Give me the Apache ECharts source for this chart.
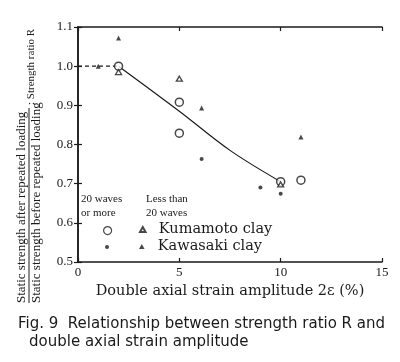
<!DOCTYPE html>
<html>
<head>
<meta charset="utf-8">
<script src="https://cdn.jsdelivr.net/npm/echarts@6/dist/echarts.min.js"></script>
<style>html,body{margin:0;padding:0;background:#fff}#c{width:400px;height:362px}</style>
</head>
<body>
<div id="c"></div>
<script>
// Data
var kumamotoMany = [[2, 1.0], [5, 0.908], [5, 0.829], [10, 0.705], [11, 0.709]];   // 20 waves or more (open circle)
var kumamotoFew  = [[2, 0.985], [5, 0.968], [10, 0.698]];                          // less than 20 waves (open triangle)
var kawasakiMany = [[6.1, 0.763], [9, 0.69], [10, 0.674]];                          // 20 waves or more (dot)
var kawasakiFew  = [[1, 1.0], [2, 1.072], [6.1, 0.893], [11, 0.819]];               // less than 20 waves (filled triangle)
var trendDashed  = [[0, 1.0], [2, 1.0]];
var trendSolid   = [[2, 1.0], [5, 0.885], [7.5, 0.785], [10, 0.705]];
var xTicks = [0, 5, 10, 15];
var yTicks = [0.5, 0.6, 0.7, 0.8, 0.9, 1.0, 1.1];

var ink = '#1a1a1a';
var serif = 'Liberation Serif';
var chart = echarts.init(document.getElementById('c'));

function axisCommon(show) {
  return {
    axisLine: {show: true, lineStyle: {color: ink, width: 1.5}},
    axisTick: {show: true, inside: true, length: 4, lineStyle: {color: ink, width: 1.2}},
    splitLine: {show: false},
    axisLabel: {show: show, color: ink, fontFamily: serif, fontSize: 13}
  };
}

var xMain = Object.assign(axisCommon(true), {
  type: 'value', min: 0, max: 15, interval: 5, position: 'bottom',
  name: 'Double axial strain amplitude 2ε (%)', nameLocation: 'middle', nameGap: 22,
  nameTextStyle: {color: ink, fontFamily: 'DejaVu Serif', fontSize: 14.5}
});
xMain.axisLabel.margin = 4;
xMain.axisLabel.formatter = function (v) { return xTicks.indexOf(v) >= 0 ? String(v) : ''; };
var xTop = Object.assign(axisCommon(false), {type: 'value', min: 0, max: 15, interval: 5, position: 'top'});

var yMain = Object.assign(axisCommon(true), {type: 'value', min: 0.5, max: 1.1, interval: 0.1, position: 'left'});
yMain.axisLabel.margin = 5;
yMain.axisLabel.formatter = function (v) {
  var r = Math.round(v * 10) / 10;
  return yTicks.indexOf(r) >= 0 ? r.toFixed(1) : '';
};
var yRight = Object.assign(axisCommon(false), {type: 'value', min: 0.5, max: 1.1, interval: 0.1, position: 'right'});

var triPath = 'path://M5,0 L10,9 L0,9 Z';

function iconLegend(name, left, top, size) {
  return {data: [name], left: left, top: top, padding: 0, itemWidth: size, itemHeight: size,
          itemStyle: {borderWidth: 1.2},
          formatter: function () { return ''; }, selectedMode: false, textStyle: {fontSize: 1}};
}
function textLegend(name, label, left, top) {
  return {data: [name], left: left, top: top, padding: 0, itemWidth: 6, itemHeight: 5,
          formatter: function () { return label; }, selectedMode: false,
          textStyle: {color: ink, fontFamily: 'DejaVu Serif', fontSize: 14.5, lineHeight: 17, padding: [0, 0, 0, 8]}};
}

chart.setOption({
  animation: false,
  backgroundColor: '#fff',
  grid: {left: 78, right: 18, top: 27, bottom: 100},
  xAxis: [xMain, xTop],
  yAxis: [yMain, yRight],
  legend: [
    iconLegend('Kumamoto ≥20', 103, 226, 8),
    iconLegend('Kawasaki ≥20', 105, 245, 4),
    textLegend('Kumamoto <20', 'Kumamoto clay', 139, 221),
    textLegend('Kawasaki <20', 'Kawasaki clay', 139, 238)
  ],
  series: [
    {name: 'trend-dashed', type: 'line', data: trendDashed, symbol: 'none', lineStyle: {color: ink, width: 1.2, type: [4, 3]}, z: 1},
    {name: 'trend', type: 'line', data: trendSolid, symbol: 'none', smooth: 0.35, lineStyle: {color: ink, width: 1.2}, z: 1},
    {name: 'Kumamoto ≥20', type: 'scatter', data: kumamotoMany, symbol: 'circle', symbolSize: 8,
     itemStyle: {color: '#fff', borderColor: ink, borderWidth: 1.5}, z: 3},
    {name: 'Kumamoto <20', type: 'scatter', data: kumamotoFew, symbol: triPath, symbolSize: [6, 5],
     itemStyle: {color: '#fff', borderColor: ink, borderWidth: 1.3}, z: 4},
    {name: 'Kawasaki ≥20', type: 'scatter', data: kawasakiMany, symbol: 'circle', symbolSize: 4,
     itemStyle: {color: ink}, z: 3},
    {name: 'Kawasaki <20', type: 'scatter', data: kawasakiFew, symbol: triPath, symbolSize: [5, 5],
     itemStyle: {color: ink}, z: 3}
  ],
  graphic: [
    {type: 'text', left: 81, top: 192, style: {text: '20 waves\nor more', font: '11px "Liberation Serif"', fill: ink, lineHeight: 14}},
    {type: 'text', left: 146, top: 192, style: {text: 'Less than\n20 waves', font: '11px "Liberation Serif"', fill: ink, lineHeight: 14}},
    {
      type: 'group', x: 29, y: 303, rotation: Math.PI / 2,
      children: [
        {type: 'text', style: {text: 'Static strength after repeated loading', x: 0, y: -1, textAlign: 'left', textVerticalAlign: 'bottom', font: '13px "Liberation Serif"', fill: ink}},
        {type: 'line', shape: {x1: 0, y1: 0, x2: 195, y2: 0}, style: {stroke: ink, lineWidth: 1}},
        {type: 'text', style: {text: 'Static strength before repeated loading', x: 0, y: 1, textAlign: 'left', textVerticalAlign: 'top', font: '13px "Liberation Serif"', fill: ink}},
        {type: 'text', style: {text: ': Strength ratio R', x: 198, y: 2, textAlign: 'left', textVerticalAlign: 'middle', font: '11px "Liberation Serif"', fill: ink}}
      ]
    },
    {type: 'text', left: 18, top: 317, style: {text: 'Fig. 9  Relationship between strength ratio R and', font: '15px "DejaVu Sans"', fill: ink}},
    {type: 'text', left: 29, top: 335, style: {text: 'double axial strain amplitude', font: '15px "DejaVu Sans"', fill: ink}}
  ]
});
</script>
</body>
</html>
